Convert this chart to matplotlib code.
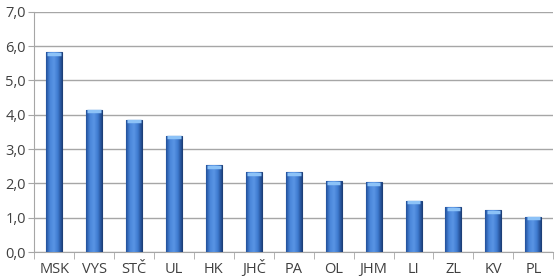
import numpy as np
import matplotlib.pyplot as plt
from matplotlib.colors import LinearSegmentedColormap

# regions and values
regions = ["MSK", "VYS", "STČ", "UL", "HK", "JHČ", "PA", "OL", "JHM", "LI", "ZL", "KV", "PL"]
values = [5.83, 4.15, 3.86, 3.39, 2.53, 2.32, 2.32, 2.06, 2.04, 1.50, 1.30, 1.21, 1.03]
y_ticks = [0, 1, 2, 3, 4, 5, 6, 7]

plt.rcParams["font.family"] = ["Open Sans", "DejaVu Sans"]

fig = plt.figure(figsize=(5.6, 2.8), dpi=100)
ax = fig.add_axes([0.061, 0.1, 0.927, 0.858])

x = np.arange(len(regions))
bars = ax.bar(x, values, width=0.4, color="#3b76cc", edgecolor="#1d3f78",
              linewidth=0.8, zorder=3)

# horizontal shading across each bar
cmap = LinearSegmentedColormap.from_list("bar", ["#22509a", "#4a86da", "#5a95e4", "#3f7bd0", "#1f4787"])
grad = np.linspace(0, 1, 64).reshape(1, -1)
for b in bars:
    x0, y0 = b.get_x(), b.get_y()
    w, h = b.get_width(), b.get_height()
    im = ax.imshow(grad, cmap=cmap, aspect="auto", extent=[x0, x0 + w, y0, y0 + h], zorder=3.5)
    im.set_clip_path(b)
    ax.plot([x0 + 0.03, x0 + w - 0.03], [y0 + h - 0.05, y0 + h - 0.05], color="#8cc2f7",
            linewidth=2.5, zorder=4, solid_capstyle="butt")

ax.set_xlim(-0.5, len(regions) - 0.5)
ax.set_ylim(0, 7)
ax.set_yticks(y_ticks)
ax.set_yticklabels([f"{t:.1f}".replace(".", ",") for t in y_ticks])
ax.set_xticks(x)
ax.set_xticklabels(regions, va="baseline")
ax.set_xticks(np.arange(len(regions) + 1) - 0.5, minor=True)

ax.grid(axis="y", color="#a6a6a6", linewidth=1.0, zorder=0)
for s in ["top", "right"]:
    ax.spines[s].set_visible(False)
ax.spines["left"].set_color("#a6a6a6")
ax.spines["bottom"].set_color("#a6a6a6")
ax.tick_params(axis="x", which="major", length=0, labelsize=10.5, colors="#404040", pad=15)
ax.tick_params(axis="x", which="minor", length=5, color="#a6a6a6")
ax.tick_params(axis="y", length=4, color="#a6a6a6", labelsize=10.5, labelcolor="#404040", pad=2)

fig.savefig("out.png", dpi=100)
